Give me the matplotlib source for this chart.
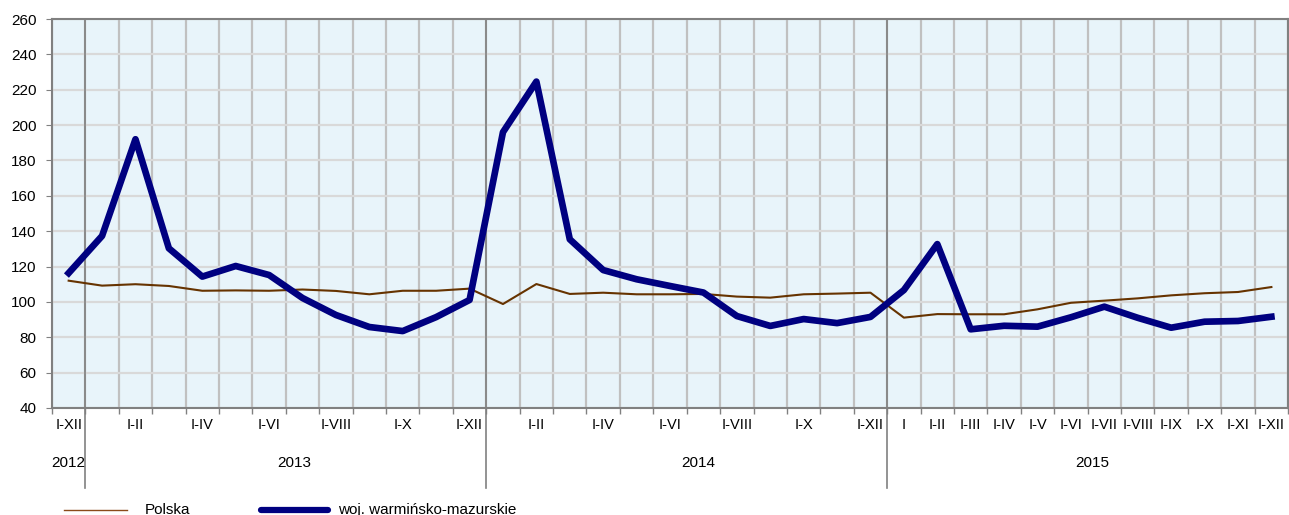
import matplotlib.pyplot as plt
from matplotlib.lines import Line2D

plt.rcParams['font.family'] = ['Liberation Sans', 'DejaVu Sans']

# month labels on the axis (blank where no label is shown)
month_labels = ['I-XII',
                '', 'I-II', '', 'I-IV', '', 'I-VI', '', 'I-VIII', '', 'I-X', '', 'I-XII',
                '', 'I-II', '', 'I-IV', '', 'I-VI', '', 'I-VIII', '', 'I-X', '', 'I-XII',
                'I', 'I-II', 'I-III', 'I-IV', 'I-V', 'I-VI', 'I-VII', 'I-VIII', 'I-IX', 'I-X', 'I-XI', 'I-XII']
years = ['2012', '2013', '2014', '2015']

polska = [112, 109.2, 110, 109, 106.3, 106.5, 106.3, 107, 106.2, 104.3, 106.3, 106.3, 107.5,
          98.8, 110.1, 104.5, 105.2, 104.3, 104.3, 104.5, 103, 102.4, 104.3, 104.7, 105.2,
          91.1, 93.1, 93, 93, 95.8, 99.5, 100.7, 102, 103.7, 104.9, 105.6, 108.4]
warm_maz = [116.3, 137.3, 192, 130.3, 114.3, 120.3, 115.2, 102.2, 92.6, 85.8, 83.5, 91.4, 101.1,
            196, 224.6, 135.4, 118, 112.8, 109, 105.3, 92, 86.4, 90.3, 88, 91.5,
            106.7, 132.7, 84.5, 86.5, 86, 91.3, 97.3, 91, 85.4, 88.8, 89.2, 91.6]

x = list(range(len(month_labels)))

fig = plt.figure(figsize=(12.89, 5.15), dpi=100)
ax = fig.add_axes([0.0403, 0.2078, 0.959, 0.7553])
ax.set_facecolor('#E8F4FA')

ax.plot(x, polska, color='#663300', lw=1.5, zorder=3)
ax.plot(x, warm_maz, color='#000080', lw=4.8, zorder=4, solid_joinstyle='round')

ax.set_xlim(-0.5, len(x) - 0.5)
ax.set_ylim(40, 260)
ax.set_yticks(range(40, 261, 20))

ax.set_xticks(x)
ax.set_xticklabels(month_labels, fontsize=10.5)
ax.set_xticks([i + 0.5 for i in range(-1, len(x))], minor=True)
ax.tick_params(axis='x', which='major', length=0, pad=7)
ax.tick_params(axis='x', which='minor', length=4, color='#808080', width=1)
ax.tick_params(axis='y', length=4, color='#808080', pad=7, labelsize=11)

ax.grid(axis='y', color='#D9D9D9', lw=1.6, zorder=0)
ax.grid(axis='x', which='minor', color='#C0C0C0', lw=1.6, zorder=0)
ax.set_axisbelow(True)
for s in ax.spines.values():
    s.set_color('#808080')
    s.set_linewidth(1.5)

# year separators extending below the axis
trans = ax.get_xaxis_transform()
for b in [0.5, 12.5, 24.5]:
    ax.add_line(Line2D([b, b], [1, -0.206], transform=trans, color='#808080',
                       lw=1.2, clip_on=False, zorder=2))

# year labels
for yr, pos in zip(years, [0, 6.75, 18.85, 30.65]):
    ax.text(pos, -0.142, yr, transform=trans, ha='center', va='center', fontsize=11)

# legend
ly = 5 / 515
fig.add_artist(Line2D([64 / 1289, 127 / 1289], [ly, ly], color='#8B4A1A', lw=1))
fig.text(145 / 1289, ly, 'Polska', ha='left', va='center', fontsize=11)
fig.add_artist(Line2D([261 / 1289, 328 / 1289], [ly, ly], color='#000080', lw=4.5,
                      solid_capstyle='round'))
fig.text(338 / 1289, ly, 'woj. warmińsko-mazurskie', ha='left', va='center', fontsize=11)

fig.savefig('out.png', dpi=100)
